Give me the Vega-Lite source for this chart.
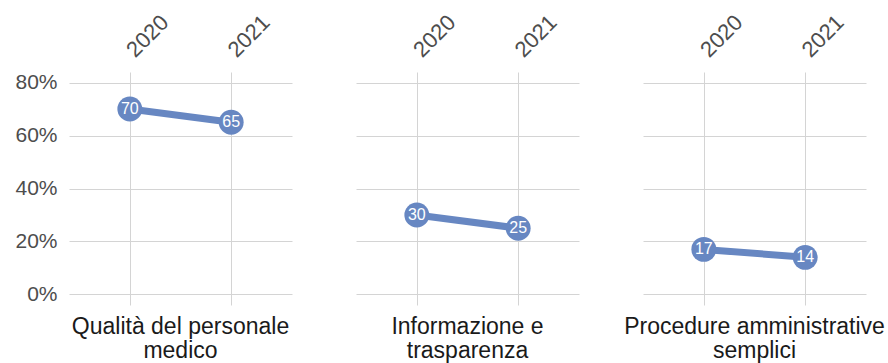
{
  "$schema": "https://vega.github.io/schema/vega-lite/v6.json",
  "padding": {"left": 14, "top": 10, "right": 5, "bottom": 0},
  "background": "white",
  "data": {"values": [
    {"cat": "Qualità del personale|medico", "year": "2020", "value": 0.70, "label": "70"},
    {"cat": "Qualità del personale|medico", "year": "2021", "value": 0.65, "label": "65"},
    {"cat": "Informazione e|trasparenza", "year": "2020", "value": 0.30, "label": "30"},
    {"cat": "Informazione e|trasparenza", "year": "2021", "value": 0.25, "label": "25"},
    {"cat": "Procedure amministrative|semplici", "year": "2020", "value": 0.17, "label": "17"},
    {"cat": "Procedure amministrative|semplici", "year": "2021", "value": 0.14, "label": "14"}
  ]},
  "facet": {"column": {"field": "cat", "type": "nominal", "sort": ["Qualità del personale|medico", "Informazione e|trasparenza", "Procedure amministrative|semplici"],
    "header": {"title": null, "labelOrient": "bottom", "labelExpr": "split(datum.value, '|')", "labelFontSize": 23, "labelFont": "Liberation Sans", "labelColor": "#1a1a1a", "labelPadding": 11, "labelLineHeight": 24, "labelBaseline": "top"}}},
  "spacing": 64,
  "spec": {
    "width": 223,
    "height": 233,
    "encoding": {
      "x": {"field": "year", "type": "ordinal", "scale": {"type": "point", "padding": 0.6},
        "axis": {"orient": "top", "title": null, "labelAngle": -45, "labelAlign": "left", "labelBaseline": "middle", "labelFontSize": 22, "labelFont": "Liberation Sans", "labelColor": "#4d4d4d", "labelPadding": 19, "domain": false, "ticks": false, "grid": true, "gridColor": "#d4d4d4", "gridWidth": 1}},
      "y": {"field": "value", "type": "quantitative", "scale": {"domain": [-0.04, 0.84], "nice": false, "zero": false},
        "axis": {"title": null, "values": [0, 0.2, 0.4, 0.6, 0.8], "format": ".0%", "labelFontSize": 21, "labelFont": "Liberation Sans", "labelColor": "#4d4d4d", "labelPadding": 12, "domain": false, "ticks": false, "grid": true, "gridColor": "#d4d4d4", "gridWidth": 1}}
    },
    "layer": [
      {"mark": {"type": "line", "color": "#6787c2", "strokeWidth": 7}},
      {"mark": {"type": "point", "filled": true, "color": "#6787c2", "opacity": 1, "size": 620}},
      {"mark": {"type": "text", "color": "white", "fontSize": 16, "font": "Liberation Sans", "align": "center", "baseline": "middle"}, "encoding": {"text": {"field": "label"}}}
    ]
  },
  "config": {"view": {"stroke": null}}
}
